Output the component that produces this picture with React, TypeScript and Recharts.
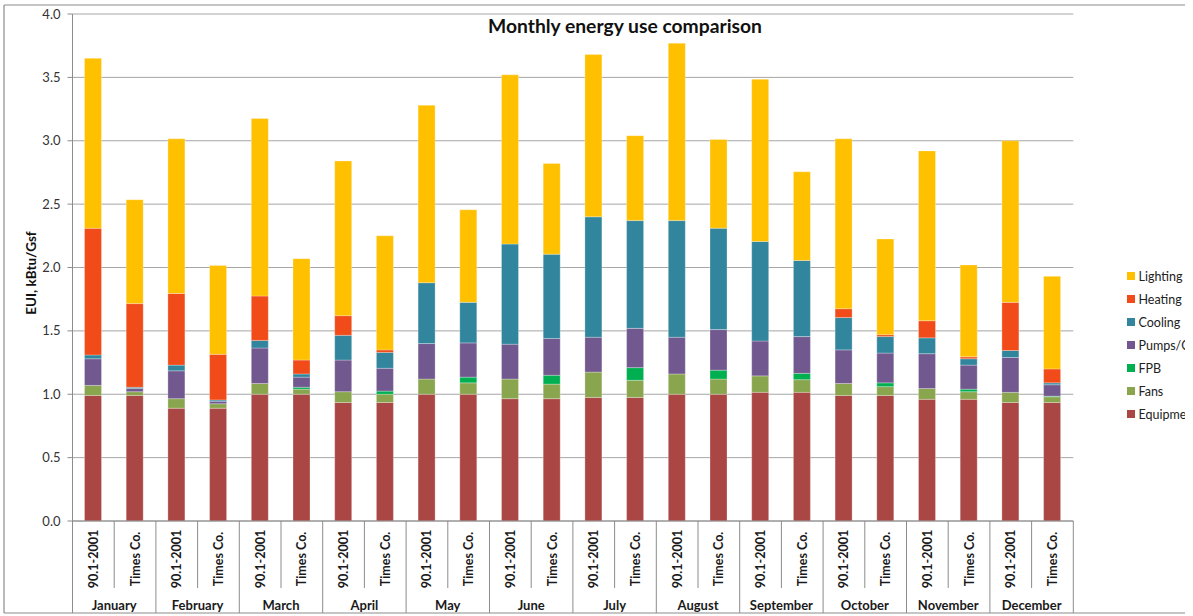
import React from 'react';
import { BarChart, Bar, XAxis, YAxis, CartesianGrid } from 'recharts';

const months = ['January', 'February', 'March', 'April', 'May', 'June', 'July', 'August', 'September', 'October', 'November', 'December'];
const scenarios = ['90.1-2001', 'Times Co.'];
const yTicks = [0, 0.5, 1.0, 1.5, 2.0, 2.5, 3.0, 3.5, 4.0];

// values per bar: [Jan 90.1, Jan Times, Feb 90.1, Feb Times, ...]
const equipment = [0.99, 0.99, 0.89, 0.89, 1.0, 1.0, 0.935, 0.935, 1.0, 1.0, 0.965, 0.965, 0.975, 0.975, 1.0, 1.0, 1.015, 1.015, 0.99, 0.99, 0.96, 0.96, 0.935, 0.935];
const fans = [0.08, 0.03, 0.075, 0.035, 0.085, 0.04, 0.085, 0.065, 0.12, 0.09, 0.155, 0.115, 0.2, 0.135, 0.16, 0.12, 0.13, 0.1, 0.095, 0.07, 0.085, 0.06, 0.08, 0.045];
const fpb = [0, 0, 0, 0, 0, 0.015, 0, 0.025, 0, 0.045, 0, 0.07, 0, 0.1, 0, 0.07, 0, 0.05, 0, 0.03, 0, 0.02, 0, 0.005];
const pumps = [0.21, 0.025, 0.22, 0.02, 0.28, 0.08, 0.25, 0.18, 0.28, 0.27, 0.275, 0.29, 0.275, 0.31, 0.29, 0.32, 0.275, 0.29, 0.265, 0.235, 0.275, 0.19, 0.275, 0.09];
const cooling = [0.03, 0.01, 0.045, 0.01, 0.06, 0.025, 0.195, 0.125, 0.48, 0.32, 0.79, 0.665, 0.95, 0.85, 0.92, 0.8, 0.785, 0.6, 0.255, 0.13, 0.125, 0.05, 0.055, 0.015];
const heating = [1.0, 0.66, 0.565, 0.36, 0.35, 0.11, 0.155, 0.02, 0, 0, 0, 0, 0, 0, 0, 0, 0, 0, 0.07, 0.015, 0.135, 0.015, 0.38, 0.11];
const lighting = [1.34, 0.82, 1.22, 0.7, 1.4, 0.8, 1.22, 0.9, 1.4, 0.73, 1.335, 0.715, 1.28, 0.67, 1.4, 0.7, 1.28, 0.7, 1.34, 0.755, 1.34, 0.725, 1.275, 0.73];

const series = [
  { key: 'equipment', name: 'Equipment', color: '#AA4643', values: equipment },
  { key: 'fans', name: 'Fans', color: '#89A54E', values: fans },
  { key: 'fpb', name: 'FPB', color: '#00B050', values: fpb },
  { key: 'pumps', name: 'Pumps/Cooling towers', color: '#71588F', values: pumps },
  { key: 'cooling', name: 'Cooling', color: '#31859C', values: cooling },
  { key: 'heating', name: 'Heating', color: '#F04B18', values: heating },
  { key: 'lighting', name: 'Lighting', color: '#FFC000', values: lighting },
];

const data = equipment.map((_, i) => {
  const row: any = {
    id: i,
    scenario: scenarios[i % 2],
    month: months[Math.floor(i / 2)],
  };
  series.forEach((s) => {
    row[s.key] = s.values[i];
  });
  return row;
});

const W = 1193;
const H = 616;
const M = { top: 14, right: 119.7, bottom: 5, left: 12.5 };
const Y_AXIS_W = 60;
const X_AXIS_H = 90;
const plotLeft = M.left + Y_AXIS_W;
const plotRight = W - M.right;
const plotBottom = H - M.bottom - X_AXIS_H;
const slot = (plotRight - plotLeft) / data.length;
const FONT = 'Lato, "Open Sans", sans-serif';
const LINE = '#8c8c8c';

const XTick = (props: any) => {
  const { x, payload } = props;
  const i = payload.index ?? payload.value;
  const row = data[i];
  const left = x - slot / 2;
  const right = x + slot / 2;
  const isFirst = i % 2 === 0;
  return (
    <g>
      <line x1={left} x2={left} y1={plotBottom} y2={isFirst ? 613 : plotBottom + 67} stroke={LINE} strokeWidth={1} />
      {i === data.length - 1 && (
        <line x1={right} x2={right} y1={plotBottom} y2={613} stroke={LINE} strokeWidth={1} />
      )}
      <text
        x={x}
        y={plotBottom + 38}
        transform={`rotate(-90, ${x}, ${plotBottom + 38})`}
        textAnchor="middle"
        dominantBaseline="central"
        fontFamily={FONT}
        fontWeight="bold"
        fontSize={12.5}
        fill="#1a1a1a"
      >
        {row.scenario}
      </text>
      {isFirst && (
        <text
          x={right}
          y={plotBottom + 84}
          textAnchor="middle"
          dominantBaseline="central"
          fontFamily={FONT}
          fontWeight="bold"
          fontSize={13}
          fill="#1a1a1a"
        >
          {row.month}
        </text>
      )}
    </g>
  );
};

const legendItems = [...series].reverse();

export default function App() {
  return (
    <div style={{ position: 'absolute', left: 0, top: 0, width: W, height: H, background: '#fff', overflow: 'hidden' }}>
      <BarChart width={W} height={H} data={data} margin={M} barSize={17}>
        <CartesianGrid vertical={false} stroke="#a6a6a6" strokeWidth={1} />
        <XAxis
          dataKey="id"
          type="category"
          height={X_AXIS_H}
          interval={0}
          tickLine={false}
          axisLine={{ stroke: LINE }}
          tick={<XTick />}
        />
        <YAxis
          width={Y_AXIS_W}
          domain={[0, 4]}
          ticks={yTicks}
          tickFormatter={(v: number) => v.toFixed(1)}
          tickSize={5}
          tickMargin={7}
          tickLine={{ stroke: LINE }}
          axisLine={{ stroke: LINE }}
          tick={{ fontFamily: FONT, fontSize: 13, fill: '#333' }}
        />
        {series.map((s) => (
          <Bar
            key={s.key}
            dataKey={s.key}
            name={s.name}
            stackId="a"
            fill={s.color}
            stroke="rgba(255,255,255,0.35)"
            strokeWidth={0.8}
            isAnimationActive={false}
          />
        ))}
      </BarChart>
      <svg width={W} height={H} style={{ position: 'absolute', left: 0, top: 0, pointerEvents: 'none' }}>
        <line x1={4} x2={1185} y1={5} y2={5} stroke={LINE} strokeWidth={1.2} />
        <line x1={4} x2={4} y1={5} y2={613} stroke={LINE} strokeWidth={1.2} />
        <line x1={4} x2={1185} y1={613} y2={613} stroke={LINE} strokeWidth={1.2} />
        <text x={625} y={33} textAnchor="middle" fontFamily={FONT} fontWeight="bold" fontSize={19.3} fill="#111">
          Monthly energy use comparison
        </text>
        <text
          x={31}
          y={273}
          transform="rotate(-90, 31, 273)"
          textAnchor="middle"
          dominantBaseline="central"
          fontFamily={FONT}
          fontWeight="bold"
          fontSize={13.5}
          fill="#111"
        >
          EUI, kBtu/Gsf
        </text>
      </svg>
      <div style={{ position: 'absolute', left: 1127, top: 264.5, width: 58, overflow: 'hidden', whiteSpace: 'nowrap', fontFamily: FONT, fontSize: 12.5, color: '#222' }}>
        {legendItems.map((s) => (
          <div key={s.key} style={{ height: 23, display: 'flex', alignItems: 'center', flexWrap: 'nowrap' }}>
            <span style={{ display: 'inline-block', flexShrink: 0, width: 7.5, height: 7.5, background: s.color, marginRight: 4 }} />
            <span style={{ flexShrink: 0 }}>{s.name}</span>
          </div>
        ))}
      </div>
    </div>
  );
}
